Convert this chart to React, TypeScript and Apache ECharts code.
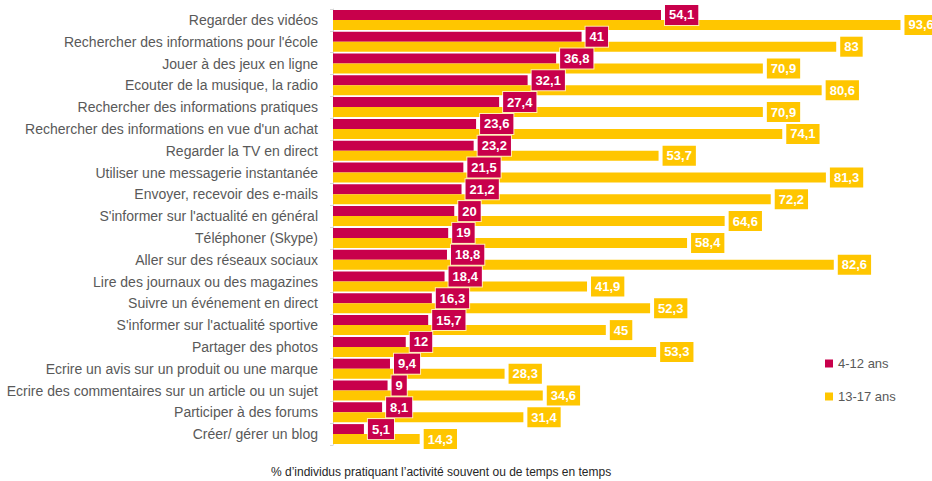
import React, { useEffect, useRef } from "react";
import * as echarts from "echarts";

const categories = [
  "Regarder des vidéos",
  "Rechercher des informations pour l'école",
  "Jouer à des jeux en ligne",
  "Ecouter de la musique, la radio",
  "Rechercher des informations pratiques",
  "Rechercher des informations en vue d'un achat",
  "Regarder la TV en direct",
  "Utiliser une messagerie instantanée",
  "Envoyer, recevoir des e-mails",
  "S'informer sur l'actualité en général",
  "Téléphoner (Skype)",
  "Aller sur des réseaux sociaux",
  "Lire des journaux ou des magazines",
  "Suivre un événement en direct",
  "S'informer sur l'actualité sportive",
  "Partager des photos",
  "Ecrire un avis sur un produit ou une marque",
  "Ecrire des commentaires sur un article ou un sujet",
  "Participer à des forums",
  "Créer/ gérer un blog",
];

const kids = [54.1, 41, 36.8, 32.1, 27.4, 23.6, 23.2, 21.5, 21.2, 20, 19, 18.8, 18.4, 16.3, 15.7, 12, 9.4, 9, 8.1, 5.1];
const teens = [93.6, 83, 70.9, 80.6, 70.9, 74.1, 53.7, 81.3, 72.2, 64.6, 58.4, 82.6, 41.9, 52.3, 45, 53.3, 28.3, 34.6, 31.4, 14.3];

const seriesNames = ["4-12 ans", "13-17 ans"];
const footnote = "% d’individus pratiquant l’activité souvent ou de temps en temps";

const CRIMSON = "#C8004B";
const GOLD = "#FFC600";
const FONT = "Liberation Sans, Arial, sans-serif";

const fmt = (v: number) => String(v).replace(".", ",");

function badge(color: string) {
  return {
    show: true,
    position: "right" as const,
    distance: 4,
    formatter: (p: any) => fmt(p.value),
    color: "#fff",
    fontWeight: "bold" as const,
    fontSize: 13,
    fontFamily: FONT,
    backgroundColor: color,
    borderColor: "rgba(255,255,255,0.7)",
    borderWidth: 1,
    padding: [3, 4, 3, 4],
    lineHeight: 14,
  };
}

export default function App() {
  const ref = useRef<HTMLDivElement>(null);
  useEffect(() => {
    if (!ref.current) return;
    const chart = echarts.init(ref.current, undefined, { renderer: "svg" });
    chart.setOption({
      animation: false,
      backgroundColor: "#fff",
      grid: { left: 333, right: 0, top: 9, bottom: 36, containLabel: false },
      xAxis: {
        type: "value",
        min: 0,
        max: 98.8,
        show: false,
      },
      yAxis: {
        type: "category",
        data: categories,
        inverse: true,
        axisLine: { show: true, lineStyle: { color: "#d9d9d9" } },
        axisTick: { show: true, length: 3, lineStyle: { color: "#d9d9d9" } },
        axisLabel: {
          margin: 15,
          color: "#595959",
          fontSize: 14,
          fontFamily: FONT,
        },
      },
      legend: {
        orient: "vertical",
        left: 820,
        top: 352,
        itemWidth: 8,
        itemHeight: 8,
        itemGap: 20,
        icon: "rect",
        textStyle: { color: "#595959", fontSize: 13, fontFamily: FONT },
        data: seriesNames,
      },
      series: [
        {
          name: seriesNames[0],
          type: "bar",
          data: kids,
          barWidth: 10,
          barGap: "0%",
          itemStyle: { color: CRIMSON },
          label: badge(CRIMSON),
        },
        {
          name: seriesNames[1],
          type: "bar",
          data: teens,
          barWidth: 10,
          barGap: "0%",
          itemStyle: { color: GOLD },
          label: badge(GOLD),
        },
      ],
      graphic: [
        {
          type: "text",
          left: 271,
          top: 466,
          style: {
            text: footnote,
            fill: "#262626",
            fontSize: 12,
            fontFamily: FONT,
          },
        },
      ],
    });
    return () => chart.dispose();
  }, []);
  return <div ref={ref} style={{ width: 932, height: 481, position: "absolute", left: 0, top: 0 }} />;
}
